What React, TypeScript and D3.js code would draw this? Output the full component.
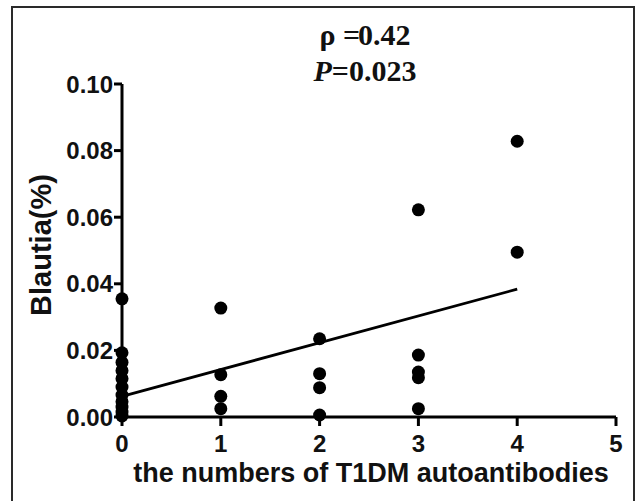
import React from "react";
import * as d3 from "d3";

const xTicks = [0, 1, 2, 3, 4, 5];
const yTicks = [0, 0.02, 0.04, 0.06, 0.08, 0.1];
const yTickLabels = ["0.00", "0.02", "0.04", "0.06", "0.08", "0.10"];

const groupX = [0, 1, 2, 3, 4];
const blautia0 = [0.0355, 0.0193, 0.0164, 0.0139, 0.0115, 0.009, 0.0066, 0.0046, 0.003, 0.0015, 0.0003];
const blautia1 = [0.0327, 0.0127, 0.0062, 0.0025];
const blautia2 = [0.0235, 0.013, 0.0088, 0.0006];
const blautia3 = [0.0622, 0.0186, 0.0135, 0.0118, 0.0025];
const blautia4 = [0.0828, 0.0495];
const groups = [blautia0, blautia1, blautia2, blautia3, blautia4];

const fitX = [0, 4];
const fitY = [0.0062, 0.0384];

const statRho = "0.42";
const statP = "0.023";

export default function App() {
  const W = 636, H = 501;
  const x = d3.scaleLinear().domain([0, 5]).range([122, 616]);
  const y = d3.scaleLinear().domain([0, 0.1]).range([417, 84]);
  const points = groups.flatMap((vals, i) => vals.map((v) => ({ gx: groupX[i], v })));
  const line = d3.line<number>().x((d, i) => x(fitX[i])).y((d) => y(d));
  const sans = "'Liberation Sans', Arial, sans-serif";
  const serif = "'Liberation Serif', 'Times New Roman', serif";
  return (
    <svg width={W} height={H} style={{ position: "absolute", left: 0, top: 0, background: "#fff" }}>
      <rect x={12} y={7} width={622} height={520} fill="none" stroke="#2a2a2a" strokeWidth={2} />
      <line x1={x(0)} x2={x(5)} y1={y(0)} y2={y(0)} stroke="#000" strokeWidth={3} />
      <line x1={x(0)} x2={x(0)} y1={y(0)} y2={y(0.1)} stroke="#000" strokeWidth={3} />
      {yTicks.map((t, i) => (
        <g key={"y" + i}>
          <line x1={x(0) - 8} x2={x(0)} y1={y(t)} y2={y(t)} stroke="#000" strokeWidth={3} />
          <text x={x(0) - 9} y={y(t)} dy="0.36em" textAnchor="end" fontFamily={sans} fontWeight="bold" fontSize={24} fill="#111">
            {yTickLabels[i]}
          </text>
        </g>
      ))}
      {xTicks.map((t, i) => (
        <g key={"x" + i}>
          <line x1={x(t)} x2={x(t)} y1={y(0)} y2={y(0) + 9} stroke="#000" strokeWidth={3} />
          <text x={x(t)} y={y(0) + 35} textAnchor="middle" fontFamily={sans} fontWeight="bold" fontSize={24} fill="#111">
            {t}
          </text>
        </g>
      ))}
      <path d={line(fitY) || ""} fill="none" stroke="#000" strokeWidth={2.8} />
      {points.map((p, i) => (
        <circle key={i} cx={x(p.gx)} cy={y(p.v)} r={6.5} fill="#000" />
      ))}
      <text x={371} y={482} textAnchor="middle" fontFamily={sans} fontWeight="bold" fontSize={27} fill="#111">
        the numbers of T1DM autoantibodies
      </text>
      <text transform="translate(51,245) rotate(-90)" textAnchor="middle" fontFamily={sans} fontWeight="bold" fontSize={29} fill="#111">
        Blautia(%)
      </text>
      <text x={365} y={45} textAnchor="middle" fontFamily={serif} fontWeight="bold" fontSize={30} fill="#111">
        ρ =<tspan dx={-2}>{statRho}</tspan>
      </text>
      <text x={365} y={81} textAnchor="middle" fontFamily={serif} fontWeight="bold" fontSize={30} fill="#111">
        <tspan fontStyle="italic">P</tspan>={statP}
      </text>
    </svg>
  );
}
